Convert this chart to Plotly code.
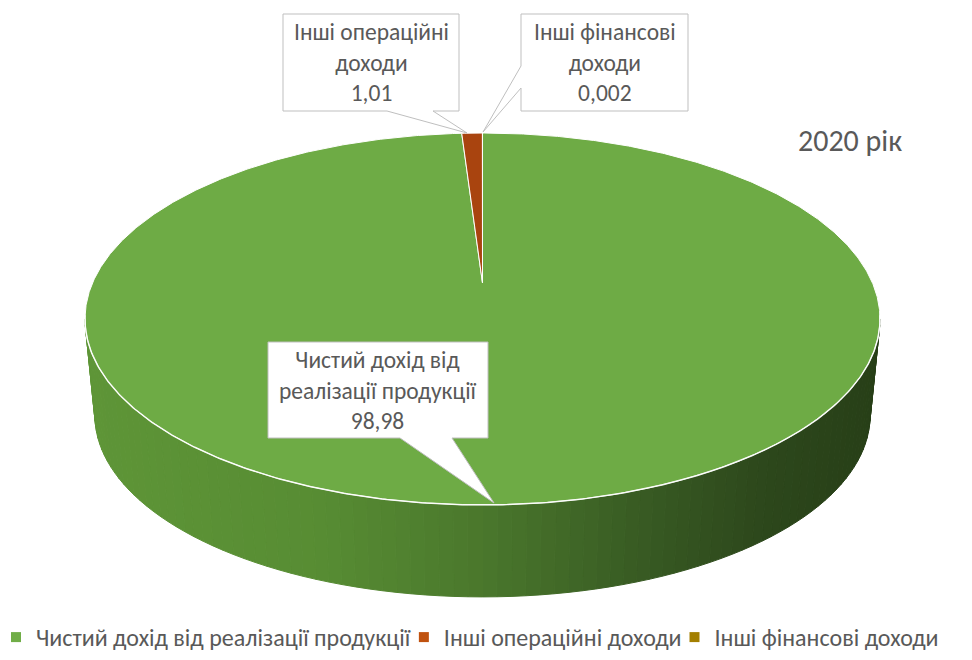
import numpy as np
import plotly.graph_objects as go

# ---------------- data ----------------
categories = ["Чистий дохід від реалізації продукції", "Інші операційні доходи", "Інші фінансові доходи"]
values = [98.98, 1.01, 0.002]
value_labels = ["98,98", "1,01", "0,002"]
label_lines = ["Чистий дохід від<br>реалізації продукції", "Інші операційні<br>доходи", "Інші фінансові<br>доходи"]
year_title = "2020 рік"

# ---------------- style ----------------
top_colors = ["#6EAB45", "#A9440F", "#9E7A00"]
legend_colors = ["#70AD47", "#C0520F", "#A37F00"]
FONT = "Carlito, Calibri, Lato, sans-serif"
TXT = "#595959"

# page body has an 8px margin: figure occupies screen pixels 8..972 x 8..660
OFF = 8
W, H = 972 - OFF, 660 - OFF

# 3D pie geometry (screen pixel space)
CX, CY, A, B, P = 482.5, 283.0, 390.0, 179.0, 0.1935
S_BOT, CY_BOT = 0.975, 380.5


def proj(phi, scale=1.0, cy=CY):
    u, v = np.sin(phi), np.cos(phi)
    den = 1 + P * v
    return CX + scale * A * u / den, cy - scale * B * v / den


def lerp_color(stops, t):
    for i in range(len(stops) - 1):
        t0, c0 = stops[i]
        t1, c1 = stops[i + 1]
        if t0 <= t <= t1:
            f = (t - t0) / (t1 - t0) if t1 > t0 else 0
            a = [int(c0[k:k + 2], 16) for k in (1, 3, 5)]
            b = [int(c1[k:k + 2], 16) for k in (1, 3, 5)]
            c = [round(a[j] + (b[j] - a[j]) * f) for j in range(3)]
            return "rgb(%d,%d,%d)" % tuple(c)
    return stops[-1][1]


side_stops = [(0.0, "#5E9537"), (0.3, "#578C33"), (0.5, "#4A772C"), (0.7, "#385B23"), (0.85, "#2D481C"), (1.0, "#273F17")]

fig = go.Figure()

total = sum(values)
fracs = [v / total for v in values]
cum = np.concatenate([[0], np.cumsum(fracs)])

# ---- side (front visible wall) ----
phi_r = np.arccos(-P)
phi_l = 2 * np.pi - phi_r
half_w = A / np.sqrt(1 - P * P)
N = 90
edges = np.linspace(phi_r, phi_l, N + 1)
for i in range(N):
    ph = np.linspace(edges[i], edges[i + 1], 4)
    xt, yt = proj(ph)
    xb, yb = proj(ph[::-1], S_BOT, CY_BOT)
    xs = np.concatenate([xt, xb, xt[:1]])
    ys = np.concatenate([yt, yb, yt[:1]])
    xm = proj((edges[i] + edges[i + 1]) / 2)[0]
    t = (xm - (CX - half_w)) / (2 * half_w)
    col = lerp_color(side_stops, float(np.clip(t, 0, 1)))
    fig.add_trace(go.Scatter(x=xs, y=ys, fill="toself", fillcolor=col, mode="lines",
                             line=dict(color=col, width=1), hoverinfo="skip", showlegend=False))

# ---- top faces ----
for i, cat in enumerate(categories):
    a0, a1 = 2 * np.pi * cum[i], 2 * np.pi * cum[i + 1]
    n = max(3, int((a1 - a0) / (2 * np.pi) * 900))
    ph = np.linspace(a0, a1, n)
    xa, ya = proj(ph)
    xs = np.concatenate([[CX], xa, [CX]])
    ys = np.concatenate([[CY], ya, [CY]])
    fig.add_trace(go.Scatter(x=xs, y=ys, fill="toself", fillcolor=top_colors[i], mode="lines",
                             line=dict(color="white", width=1), name=cat,
                             hoverinfo="skip", showlegend=False))

# white rim along the front edge of the top face
ph = np.linspace(phi_r - 0.02, phi_l + 0.02, 300)
xr, yr = proj(ph)
fig.add_trace(go.Scatter(x=xr, y=yr, mode="lines", line=dict(color="rgba(255,255,255,0.85)", width=1.5),
                         hoverinfo="skip", showlegend=False))

# legend entries
for i, cat in enumerate(categories):
    fig.add_trace(go.Scatter(x=[None], y=[None], mode="markers", name=cat,
                             marker=dict(symbol="square", size=10, color=legend_colors[i])))

# ---- callouts ----
boxes = [
    "M 268 342 H 488 V 438 H 452 L 494 503 L 400 438 H 268 Z",
    "M 283 14 H 459 V 111 H 433 L 467 133 L 387 111 H 283 Z",
    "M 521 14 H 688 V 111 H 521 V 88 L 483 132 L 521 66 Z",
]
centers = [(378, 390), (371, 62.5), (604.5, 62.5)]
shapes = [dict(type="path", path=p, xref="x", yref="y", fillcolor="white",
               line=dict(color="#BFBFBF", width=1), layer="above") for p in boxes]

annotations = []
for i in range(len(categories)):
    annotations.append(dict(x=centers[i][0], y=centers[i][1], xref="x", yref="y",
                            text=label_lines[i] + "<br>" + value_labels[i], showarrow=False,
                            font=dict(family=FONT, size=23.5, color=TXT), align="center"))
annotations.append(dict(x=850, y=140, xref="x", yref="y", text=year_title, showarrow=False,
                        font=dict(family=FONT, size=30, color=TXT)))

fig.update_layout(
    width=W, height=H,
    margin=dict(l=0, r=0, t=0, b=0),
    paper_bgcolor="white", plot_bgcolor="white",
    xaxis=dict(range=[OFF, 972], visible=False, fixedrange=True),
    yaxis=dict(range=[660, OFF], visible=False, fixedrange=True),
    shapes=shapes, annotations=annotations,
    showlegend=True,
    legend=dict(orientation="h", x=0.0, xanchor="left", y=0.0, yanchor="bottom",
                font=dict(family=FONT, size=24, color=TXT), itemwidth=30,
                indentation=-12, bgcolor="rgba(0,0,0,0)"),
)

fig.write_html("out.html")
